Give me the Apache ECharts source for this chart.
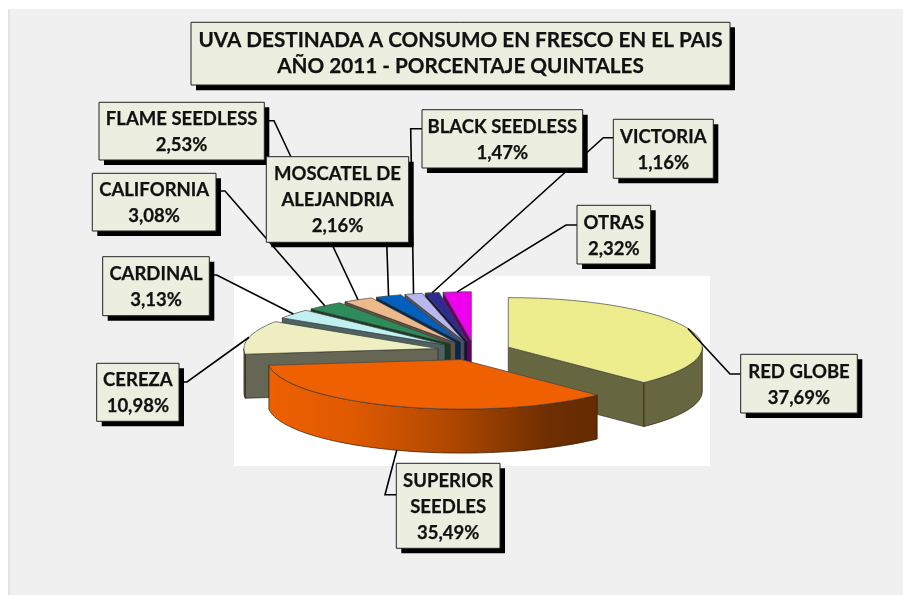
<!DOCTYPE html>
<html>
<head>
<meta charset="utf-8">
<style>html,body{margin:0;padding:0;background:#fff}#c{width:903px;height:595px}</style>
<script src="https://cdn.jsdelivr.net/npm/echarts@6/dist/echarts.min.js"></script>
</head>
<body>
<div id="c"></div>
<script>
// ---- data ----
const titleLines = ['UVA DESTINADA A CONSUMO EN FRESCO EN EL PAIS', 'AÑO 2011 - PORCENTAJE QUINTALES'];
const categories = ['RED GLOBE', 'SUPERIOR\nSEEDLES', 'CEREZA', 'CARDINAL', 'CALIFORNIA', 'FLAME SEEDLESS', 'MOSCATEL DE\nALEJANDRIA', 'BLACK SEEDLESS', 'VICTORIA', 'OTRAS'];
const values = [37.69, 35.49, 10.98, 3.13, 3.08, 2.53, 2.16, 1.47, 1.16, 2.32];
const valueLabels = ['37,69%', '35,49%', '10,98%', '3,13%', '3,08%', '2,53%', '2,16%', '1,47%', '1,16%', '2,32%'];

// ---- styles ----
const topColors = ['#EDED8E', '#EE6000', '#EEEEC0', '#C0F0F0', '#2E8B5A', '#EDB98A', '#0060C0', '#B8B8EE', '#2C2C90', '#EE00EE'];
const wallColors = ['#666640', '#663000', '#666655', '#4F6262', '#143C26', '#665040', '#002A54', '#505066', '#131340', '#660066'];
const superiorWall = {type: 'linear', x: 0, y: 0, x2: 1, y2: 0, colorStops: [
  {offset: 0, color: '#EE6000'}, {offset: 0.25, color: '#E05A00'},
  {offset: 0.55, color: '#B04800'}, {offset: 0.85, color: '#6E2E00'}, {offset: 1, color: '#662B00'}]};

// ---- layout ----
const pie = {cx: 474, cy: 350.7, rx: 194, ry: 49.5, depth: 44, explode: 37};
const boxes = [
  [740.7, 354.3, 857.3, 413], [396.3, 463.3, 500, 548.3], [96.7, 363.3, 179, 421.3],
  [102.7, 256.7, 209.3, 315.7], [92.3, 173.3, 216, 231], [99, 102.3, 264.3, 160],
  [266.3, 156.7, 408.7, 242.3], [422, 109.7, 582.7, 168], [613.3, 119.3, 713.3, 178.3], [577, 205.3, 650.7, 264]
];
const elbows = [
  [[740.7, 374], [730, 374]], [[396.3, 494.7], [385, 494.7]], [[179, 382], [187, 382]],
  [[209.3, 275], [216.7, 275]], [[216, 191], [225, 191]], [[264.3, 120.7], [274, 120.7]],
  [[386.7, 242]], [[422, 128.7], [410.7, 128.7]], [[613.3, 137.7], [603.3, 137.7]], [[577, 225], [566, 225]]
];
const sliceZ = [30, 40, 20, 19, 18, 17, 16, 15, 14, 13];

const total = values.reduce((a, b) => a + b, 0);
const startAngles = [];
values.reduce((acc, v, i) => { startAngles[i] = acc; return acc + v / total * 360; }, 0);
const rad = d => d * Math.PI / 180;
const FONT = 'bold 18.5px Lato, Carlito, sans-serif';

function renderItem(params, api) {
  const i = params.dataIndex;
  const v = api.value(1);
  const a0 = startAngles[i], a1 = a0 + v / total * 360, mid = (a0 + a1) / 2;
  const ox = pie.cx + pie.explode * Math.sin(rad(mid));
  const oy = pie.cy - pie.explode * (pie.ry / pie.rx) * Math.cos(rad(mid));
  const rim = (a, d) => [ox + pie.rx * Math.sin(rad(a)), oy - pie.ry * Math.cos(rad(a)) + (d || 0)];
  const arc = (s, e, d) => {
    const n = Math.max(2, Math.ceil((e - s) / 1.5)), pts = [];
    for (let k = 0; k <= n; k++) pts.push(rim(s + (e - s) * k / n, d));
    return pts;
  };
  const children = [];
  const wall = i === 1 ? superiorWall : wallColors[i];
  const z = sliceZ[i];
  const poly = (points, fill, stroke, zz) => ({
    type: 'polygon', shape: {points}, z2: zz,
    style: {fill, stroke, lineWidth: 0.7}
  });
  const D = pie.depth, O = [ox, oy];
  // radial cut walls
  if (a0 > 180 && a0 < 360) {
    children.push(poly([O, rim(a0), rim(a0, D), [ox, oy + D]], wallColors[i], '#222', z));
  }
  if (a1 > 0 && a1 < 180) {
    children.push(poly([O, rim(a1), rim(a1, D), [ox, oy + D]], wallColors[i], '#333', z));
  }
  // outer rim wall (front half only)
  const s = Math.max(a0, 90), e = Math.min(a1, 270);
  if (e > s) {
    children.push(poly(arc(s, e).concat(arc(s, e, D).reverse()), wall, '#2a1a00', z));
  }
  // top face
  children.push(poly([O].concat(arc(a0, a1)), topColors[i], '#444', z));

  // leader line from box elbow to the slice's rim at its mid angle
  const c = Math.cos(rad(mid));
  const anchor = rim(mid, c < 0 ? D : 0);
  children.push({
    type: 'polyline', z2: 50, shape: {points: elbows[i].concat([anchor])},
    style: {fill: null, stroke: '#000', lineWidth: 1.6}
  });

  // label box
  const b = boxes[i];
  children.push({type: 'rect', z2: 60 + i, shape: {x: b[0] + 5, y: b[1] + 5, width: b[2] - b[0], height: b[3] - b[1]}, style: {fill: '#000'}});
  children.push({type: 'rect', z2: 60 + i, shape: {x: b[0], y: b[1], width: b[2] - b[0], height: b[3] - b[1]}, style: {fill: '#ECEFDF', stroke: '#222', lineWidth: 1}});
  children.push({
    type: 'text', z2: 80 + i,
    x: (b[0] + b[2]) / 2, y: (b[1] + b[3]) / 2 + 1,
    style: {text: categories[i] + '\n' + valueLabels[i], font: FONT, fill: '#111', stroke: '#111', lineWidth: 0.25, align: 'center', verticalAlign: 'middle', lineHeight: 26}
  });
  return {type: 'group', children};
}

const chart = echarts.init(document.getElementById('c'), null, {renderer: 'canvas'});
chart.setOption({
  animation: false,
  backgroundColor: '#ffffff',
  title: {
    text: titleLines.join('\n'), left: 460.5, top: 27, textAlign: 'center', padding: 0,
    textStyle: {fontFamily: 'Lato, Carlito, sans-serif', fontWeight: 'bold', fontSize: 20.7, lineHeight: 26, color: '#111', textBorderColor: '#111', textBorderWidth: 0.25}
  },
  graphic: [
    {type: 'rect', z: -10, shape: {x: 8, y: 9, width: 895, height: 586}, style: {fill: '#F0F0F0'}},
    {type: 'rect', z: -10, shape: {x: 8, y: 9, width: 2, height: 586}, style: {fill: '#E2E2E2'}},
    {type: 'rect', z: -9, shape: {x: 234, y: 276, width: 476, height: 190}, style: {fill: '#FFFFFF'}},
    {type: 'rect', z: -8, shape: {x: 196, y: 27.3, width: 539, height: 63}, style: {fill: '#000'}},
    {type: 'rect', z: -8, shape: {x: 191, y: 22.3, width: 539, height: 62.7}, style: {fill: '#ECEFDF', stroke: '#222', lineWidth: 1}}
  ],
  series: [{
    type: 'custom', coordinateSystem: 'none', silent: true,
    data: categories.map((n, i) => [n, values[i]]),
    renderItem
  }]
});
</script>
</body>
</html>
